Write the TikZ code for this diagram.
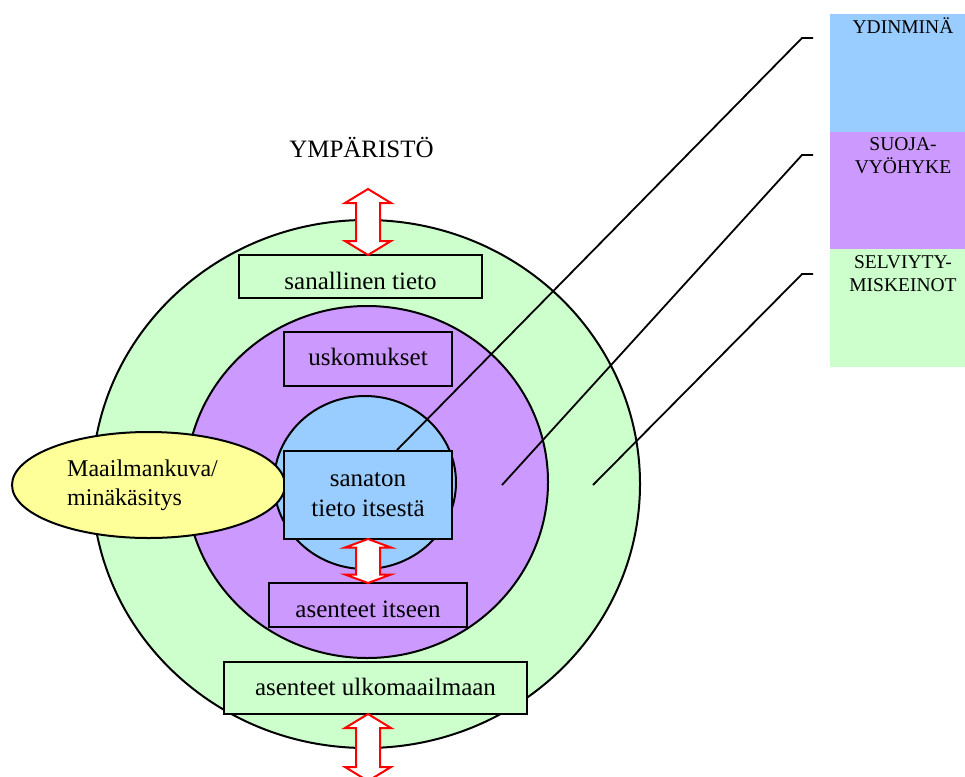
\documentclass[tikz,border=0pt]{standalone}
\usepackage{fontspec}
\setmainfont{Liberation Serif}
\usetikzlibrary{shapes.geometric}
\definecolor{ringgreen}{HTML}{CCFFCC}
\definecolor{ringpurple}{HTML}{CC99FF}
\definecolor{coreblue}{HTML}{99CCFF}
\definecolor{viewyellow}{HTML}{FFFF99}
\definecolor{arrowred}{HTML}{FF0000}

% two-headed vertical arrow: x, top tip y, bottom tip y, head length
\newcommand\twowayarrow[4]{%
  \draw[twoway] (#1,#2) -- (#1+23,#2+#4) -- (#1+12,#2+#4) -- (#1+12,#3-#4)
    -- (#1+23,#3-#4) -- (#1,#3) -- (#1-23,#3-#4) -- (#1-12,#3-#4)
    -- (#1-12,#2+#4) -- (#1-23,#2+#4) -- cycle;}

\begin{document}
\begin{tikzpicture}[x=1pt,y=-1pt,
  ring/.style={ellipse, draw, line width=2pt, inner sep=0pt},
  labelbox/.style={draw, line width=2pt, inner sep=0pt, font=\fontsize{25}{30}\selectfont},
  twoway/.style={draw=arrowred, fill=white, line width=2pt, line join=miter},
  leader/.style={draw, line width=1.8pt},
  band/.style={anchor=north west, minimum width=150pt, inner sep=0pt},
  bandlabel/.style={align=center, inner sep=0pt, font=\fontsize{19.5}{23}\selectfont}]
\clip (0,0) rectangle (965,776);
\fill[white] (0,0) rectangle (965,776);

% layer bands on the right
\node[band, fill=coreblue, minimum height=118pt] (coreband) at (830,14) {};
\node[band, fill=ringpurple, minimum height=117pt] (protband) at (830,132) {};
\node[band, fill=ringgreen, minimum height=118pt] (copeband) at (830,249) {};
\node[bandlabel, anchor=base] (corelabel) at (903,34) {YDINMINÄ};
\node[bandlabel] (protlabel) at (903,156) {SUOJA-\\VYÖHYKE};
\node[bandlabel] (copelabel) at (903,274) {SELVIYTY-\\MISKEINOT};

% environment title
\node[anchor=base, inner sep=0pt, font=\fontsize{25}{30}\selectfont] (env) at (361.5,157) {YMPÄRISTÖ};

% outer ring
\node[ring, fill=ringgreen, minimum width=548pt, minimum height=528pt] (outer) at (366,484) {};
\node[labelbox, fill=ringgreen, minimum width=243pt, text height=34pt, text depth=9pt] (verbal) at (360.5,276.5) {sanallinen tieto};
\node[labelbox, fill=ringgreen, minimum width=303pt, text height=33pt, text depth=19pt] (outward) at (375.5,688) {asenteet ulkomaailmaan};

% middle ring
\node[ring, fill=ringpurple, minimum width=362pt, minimum height=352pt] (middle) at (367,482) {};
\node[labelbox, fill=ringpurple, minimum width=168pt, text height=33pt, text depth=21pt] (beliefs) at (368,359) {uskomukset};
\node[labelbox, fill=ringpurple, minimum width=198pt, text height=34pt, text depth=10pt] (selfatt) at (368,605) {asenteet itseen};

% core
\node[ring, fill=coreblue, minimum width=182pt, minimum height=173pt] (core) at (365,482.5) {};

% world view
\node[ring, fill=viewyellow, minimum width=273pt, minimum height=106pt] (view) at (148.5,485) {};
\node[align=left, anchor=west, inner sep=0pt, font=\fontsize{24}{29}\selectfont] (viewtext) at (67,485) {Maailmankuva/\\minäkäsitys};

\node[labelbox, fill=coreblue, align=center, minimum width=168pt, minimum height=88pt] (sanaton) at (368,495) {sanaton\\tieto itsestä};

% leader lines from the bands to the rings
\coordinate (s1) at (813,38);
\coordinate (s2) at (813,155);
\coordinate (s3) at (813,274);
\coordinate (e2) at (502,485);
\coordinate (e3) at (593,485);
\draw[leader] (s1) -- ++(-11,0) -- ([xshift=29pt]sanaton.north);
\draw[leader] (s2) -- ++(-11,0) -- (e2);
\draw[leader] (s3) -- ++(-11,0) -- (e3);

% exchange arrows
\twowayarrow{368}{189}{255}{14}
\twowayarrow{368}{539}{583}{8.5}
\twowayarrow{368}{714}{781}{14}
\end{tikzpicture}
\end{document}
